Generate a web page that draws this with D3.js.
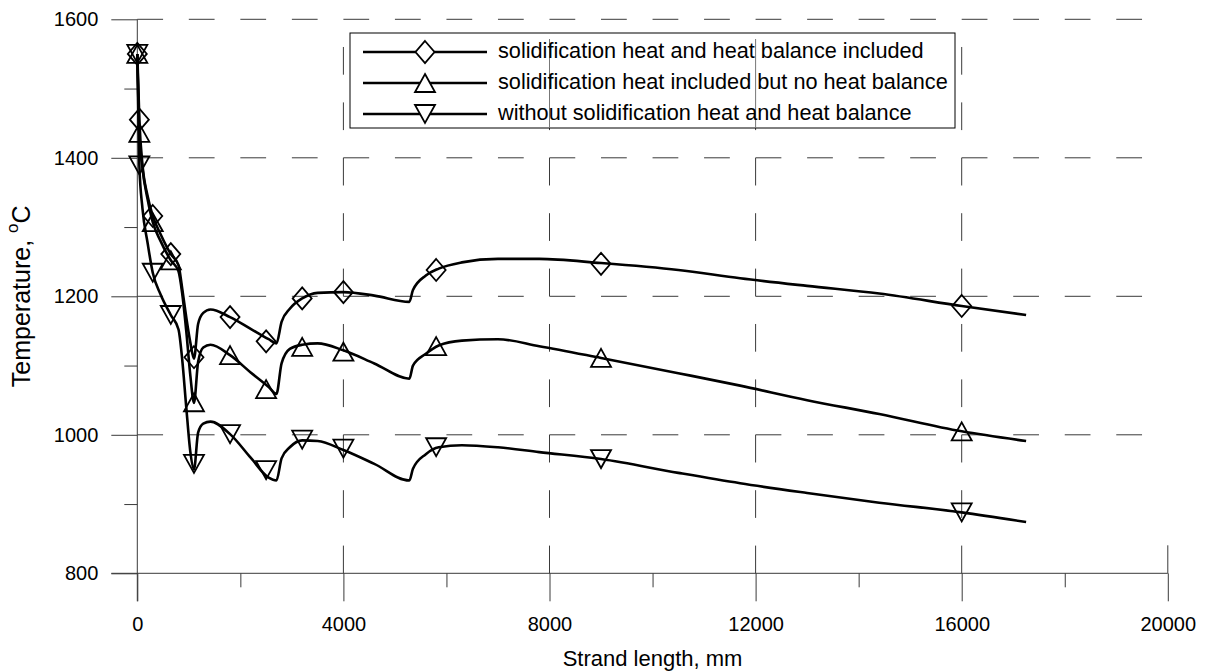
<!DOCTYPE html>
<html>
<head>
<meta charset="utf-8">
<script src="https://cdn.jsdelivr.net/npm/d3@7"></script>
<style>
  body { margin: 0; background: #fff; }
  text { font-family: "Liberation Sans", Arial, sans-serif; fill: #000; }
</style>
</head>
<body>
<svg id="chart" width="1206" height="671"></svg>
<script>
// Distance along the strand (mm) at which the temperature profiles are sampled
const distance = [0, 40, 100, 200, 300, 450, 650, 800, 870, 950, 1030, 1100, 1180, 1280, 1420,
  1800, 2200, 2550, 2700, 2800, 2960, 3200, 3500, 4000, 4600, 5280, 5350, 5600, 5850, 6300,
  7000, 7800, 9000, 10500, 11700, 13000, 14400, 16000, 17250];

// Surface temperature (°C) for each case
const tempFull = [1550, 1455, 1390, 1345, 1316, 1290, 1261, 1245, 1212, 1170, 1133, 1110, 1160, 1176, 1181,
  1170, 1153, 1138, 1132, 1163, 1182, 1197, 1205, 1206, 1201, 1192, 1209, 1230, 1240, 1249,
  1254, 1254, 1248, 1238, 1226, 1215, 1204, 1186, 1173];
const tempNoBalance = [1550, 1436, 1385, 1340, 1307, 1280, 1252, 1236, 1205, 1150, 1085, 1046, 1105, 1126, 1130,
  1115, 1090, 1069, 1059, 1103, 1124, 1130, 1132, 1122, 1103, 1081, 1100, 1117, 1129, 1136,
  1138, 1128, 1111, 1089, 1071, 1050, 1030, 1005, 991];
const tempNone = [1550, 1389, 1327, 1277, 1234, 1203, 1173, 1152, 1110, 1040, 975, 950, 1003, 1016, 1019,
  1001, 967, 938, 934, 966, 982, 992, 991, 978, 958, 934, 951, 972, 982, 985,
  982, 975, 965, 945, 930, 916, 902, 888, 874];

// Marker positions (mm) and the marked temperatures
const markerDistance = [0, 40, 300, 650, 1100, 1800, 2500, 3200, 4000, 5800, 9000, 16000];
const markFull = [1550, 1455, 1316, 1261, 1112, 1170, 1135, 1197, 1206, 1238, 1247, 1186];
const markNoBalance = [1550, 1436, 1307, 1252, 1047, 1115, 1066, 1127, 1120, 1128, 1111, 1005];
const markNone = [1550, 1389, 1234, 1173, 958, 1001, 949, 993, 980, 982, 965, 888];

const seriesNames = [
  "solidification heat and heat balance included",
  "solidification heat included but no heat balance",
  "without solidification heat and heat balance"
];
const markerShapes = ["diamond", "triangleUp", "triangleDown"];

const xTickValues = [0, 4000, 8000, 12000, 16000, 20000];
const xMinorValues = [2000, 6000, 10000, 14000, 18000];
const yTickValues = [800, 1000, 1200, 1400, 1600];
const yMinorValues = [900, 1100, 1300, 1500];

const svg = d3.select("#chart");
const x = d3.scaleLinear().domain([0, 20000]).range([137.3, 1167.8]);
const y = d3.scaleLinear().domain([800, 1600]).range([573.3, 19.3]);

const gridColor = "#3a3a3a";
const axisColor = "#3a3a3a";
const numFmt = d3.format("d");

// Dash period follows the data units: 1000 mm horizontally, 80 °C vertically
const hPeriod = x(1000) - x(0);
const vPeriod = y(800) - y(880);

// Horizontal dashed grid
svg.append("g").selectAll("line")
  .data(yTickValues.filter(v => v > 800))
  .join("line")
  .attr("x1", x(0)).attr("x2", x(20000))
  .attr("y1", d => y(d)).attr("y2", d => y(d))
  .attr("stroke", gridColor).attr("stroke-width", 1)
  .attr("stroke-dasharray", `${hPeriod / 2},${hPeriod / 2}`);

// Vertical dashed grid, dashes start at the x axis
svg.append("g").selectAll("line")
  .data(xTickValues.filter(v => v > 0 && v < 20000))
  .join("line")
  .attr("x1", d => x(d)).attr("x2", d => x(d))
  .attr("y1", y(800)).attr("y2", y(1600))
  .attr("stroke", gridColor).attr("stroke-width", 1)
  .attr("stroke-dasharray", `${vPeriod / 2},${vPeriod / 2}`);

// Axes
const xAxis = d3.axisBottom(x).tickValues(xTickValues).tickSize(28).tickPadding(16).tickFormat(numFmt);
const gx = svg.append("g").attr("transform", `translate(0,${y(800)})`).call(xAxis);
gx.select(".domain").remove();
gx.selectAll(".tick line").attr("stroke", axisColor);
gx.selectAll(".tick text").attr("font-size", 20).attr("font-family", "Liberation Sans, Arial, sans-serif");
svg.append("g").attr("transform", `translate(0,${y(800)})`)
  .call(d3.axisBottom(x).tickValues(xMinorValues).tickSize(14).tickFormat(""))
  .call(g => g.select(".domain").remove())
  .call(g => g.selectAll(".tick line").attr("stroke", axisColor));

const yAxis = d3.axisLeft(y).tickValues(yTickValues).tickSize(26).tickPadding(13).tickFormat(numFmt);
const gy = svg.append("g").attr("transform", `translate(${x(0)},0)`).call(yAxis);
gy.select(".domain").remove();
gy.selectAll(".tick line").attr("stroke", axisColor);
gy.selectAll(".tick text").attr("font-size", 20).attr("font-family", "Liberation Sans, Arial, sans-serif");
svg.append("g").attr("transform", `translate(${x(0)},0)`)
  .call(d3.axisLeft(y).tickValues(yMinorValues).tickSize(13).tickFormat(""))
  .call(g => g.select(".domain").remove())
  .call(g => g.selectAll(".tick line").attr("stroke", axisColor));

// Axis lines and the cross tick at the right end
svg.append("line").attr("x1", x(0) - 26).attr("x2", x(20000)).attr("y1", y(800)).attr("y2", y(800))
  .attr("stroke", axisColor);
svg.append("line").attr("x1", x(0)).attr("x2", x(0)).attr("y1", y(1600)).attr("y2", y(800) + 28)
  .attr("stroke", axisColor);
svg.append("line").attr("x1", x(20000)).attr("x2", x(20000)).attr("y1", y(800) - 28).attr("y2", y(800))
  .attr("stroke", axisColor);

// Axis titles
svg.append("text")
  .attr("x", (x(0) + x(20000)) / 2).attr("y", 660)
  .attr("text-anchor", "middle").attr("dominant-baseline", "middle")
  .attr("font-size", 22)
  .text("Strand length, mm");

const yTitle = svg.append("text")
  .attr("transform", `translate(23,${(y(800) + y(1600)) / 2}) rotate(-90)`)
  .attr("text-anchor", "middle").attr("dominant-baseline", "middle")
  .attr("font-size", 25);
yTitle.append("tspan").text("Temperature, ");
yTitle.append("tspan").attr("font-size", 17).attr("dy", -9).text("o");
yTitle.append("tspan").attr("dy", 9).text("C");

// Marker shapes, centred on their bounding box
function markerPath(shape, w, h) {
  if (shape === "diamond") return `M0,${-h / 2}L${w / 2},0L0,${h / 2}L${-w / 2},0Z`;
  if (shape === "triangleUp") return `M0,${-h / 2}L${w / 2},${h / 2}L${-w / 2},${h / 2}Z`;
  return `M${-w / 2},${-h / 2}L${w / 2},${-h / 2}L0,${h / 2}Z`;
}
const markerSize = { diamond: [19, 22], triangleUp: [20, 18], triangleDown: [20, 18] };

const line = d3.line().x(d => x(d[0])).y(d => y(d[1])).curve(d3.curveMonotoneX);

const profiles = [tempFull, tempNoBalance, tempNone];
const marks = [markFull, markNoBalance, markNone];

profiles.forEach((temps, i) => {
  svg.append("path")
    .datum(distance.map((d, k) => [d, temps[k]]))
    .attr("d", line)
    .attr("fill", "none").attr("stroke", "#000").attr("stroke-width", 2.6)
    .attr("stroke-linejoin", "round");
});

marks.forEach((vals, i) => {
  const shape = markerShapes[i];
  const [w, h] = markerSize[shape];
  svg.append("g").selectAll("path")
    .data(markerDistance.map((d, k) => [d, vals[k]]))
    .join("path")
    .attr("transform", d => `translate(${x(d[0])},${y(d[1])})`)
    .attr("d", markerPath(shape, w, h))
    .attr("fill", "none").attr("stroke", "#000").attr("stroke-width", 1.8);
});

// Legend
const legend = svg.append("g").attr("transform", "translate(350,33)");
legend.append("rect").attr("width", 605).attr("height", 95)
  .attr("fill", "#fff").attr("stroke", "#000").attr("stroke-width", 1);
xTickValues.filter(v => x(v) > 350 && x(v) < 955).forEach(v => {
  legend.append("line").attr("x1", x(v) - 350).attr("x2", x(v) - 350)
    .attr("y1", 6).attr("y2", 95).attr("stroke", "#777").attr("stroke-width", 1);
});
seriesNames.forEach((name, i) => {
  const row = legend.append("g").attr("transform", `translate(0,${19 + i * 31})`);
  row.append("line").attr("x1", 13).attr("x2", 137).attr("stroke", "#000").attr("stroke-width", 2.6);
  const shape = markerShapes[i];
  const [w, h] = markerSize[shape];
  row.append("path").attr("transform", "translate(75,0)").attr("d", markerPath(shape, w, h))
    .attr("fill", "#fff").attr("stroke", "#000").attr("stroke-width", 1.8);
  row.append("text").attr("x", 148).attr("y", 0).attr("dominant-baseline", "middle")
    .attr("font-size", 21.7).text(name);
});
</script>
</body>
</html>
